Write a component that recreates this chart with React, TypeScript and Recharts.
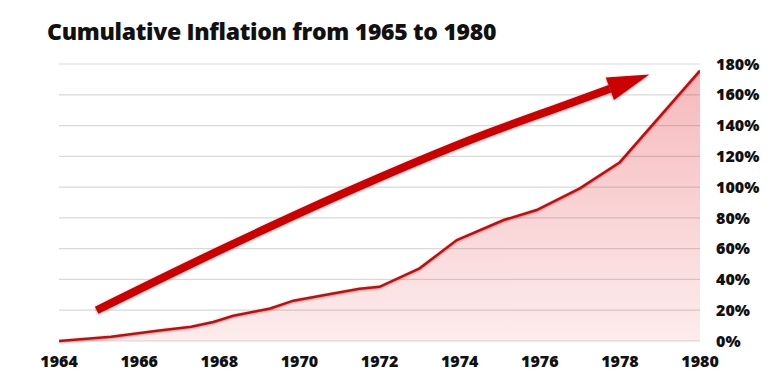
import React from 'react';
import {
  ComposedChart,
  Area,
  Line,
  XAxis,
  YAxis,
  CartesianGrid,
} from 'recharts';

// cumulative inflation since 1964, in percent
const years = [
  1964, 1965.3, 1966.5, 1967.3, 1967.85, 1968.35, 1969.27, 1969.85, 1970.7,
  1971.5, 1972, 1973, 1973.93, 1975.1, 1975.92, 1977, 1978, 1980,
];
const inflation = [
  0, 2.7, 6.8, 9.2, 12.4, 16.4, 21.1, 26.2, 30.2, 33.9, 35.2, 47.2, 65.6,
  78.6, 85.1, 99.2, 116.2, 175.7,
];

// decorative trend arrow (shaft points, arrow head is drawn at the last one)
const arrowYears = [1964.94, 1968.19, 1971.76, 1974.26, 1976.76, 1977.75];
const arrowValues = [20, 61.2, 103.5, 130.6, 154.5, 163.9];

const xTicks = [1964, 1966, 1968, 1970, 1972, 1974, 1976, 1978, 1980];
const yTicks = [0, 20, 40, 60, 80, 100, 120, 140, 160, 180];

const TITLE = 'Cumulative Inflation from 1965 to 1980';
const RED = '#cc0000';
const LINE_RED = '#c20d0d';
const FONT = '"Open Sans", Lato, sans-serif';

const inflationData = years.map((year, i) => ({ year, value: inflation[i] }));
const arrowData = arrowYears.map((year, i) => ({ year, value: arrowValues[i] }));

function ArrowHead(props: any) {
  const { cx, cy, index, points } = props;
  const key = `head-${index}`;
  if (!points || index !== points.length - 1 || index < 1) return <g key={key} />;
  const prev = points[index - 1];
  const dx = cx - prev.x;
  const dy = cy - prev.y;
  const len = Math.hypot(dx, dy) || 1;
  const ux = dx / len;
  const uy = dy / len;
  const headLen = 42;
  const half = 12;
  const tip = [cx + ux * headLen, cy + uy * headLen];
  const a = [cx - uy * half, cy + ux * half];
  const b = [cx + uy * half, cy - ux * half];
  return (
    <polygon
      key={key}
      points={`${tip[0]},${tip[1]} ${a[0]},${a[1]} ${b[0]},${b[1]}`}
      fill={RED}
      filter="url(#softShadow)"
    />
  );
}

export default function App() {
  return (
    <div style={{ position: 'absolute', left: 0, top: 0, width: 781, height: 391, background: '#fff' }}>
      <div
        style={{
          position: 'absolute',
          left: 47,
          top: 15,
          fontFamily: FONT,
          fontWeight: 800,
          fontSize: 23,
          letterSpacing: -0.3,
          color: '#111',
          whiteSpace: 'nowrap',
        }}
      >
        {TITLE}
      </div>
      <ComposedChart
        width={781}
        height={391}
        margin={{ top: 64, right: 0, bottom: 20, left: 59 }}
      >
        <defs>
          <linearGradient id="inflFill" x1="0" y1="0" x2="0" y2="1">
            <stop offset="0%" stopColor="#e0141e" stopOpacity={0.3} />
            <stop offset="100%" stopColor="#e0141e" stopOpacity={0.08} />
          </linearGradient>
          <filter id="softShadow" x="-10%" y="-10%" width="120%" height="130%">
            <feDropShadow dx="0" dy="1" stdDeviation="0.8" floodColor="#000" floodOpacity="0.35" />
          </filter>
        </defs>
        <CartesianGrid vertical={false} stroke="#d9d9d9" strokeWidth={1.2} />
        <XAxis
          type="number"
          dataKey="year"
          domain={[1964, 1980]}
          ticks={xTicks}
          allowDataOverflow
          axisLine={false}
          tickLine={false}
          tickSize={0}
          tickMargin={15}
          height={30}
          tick={{ fontFamily: FONT, fontWeight: 800, fontSize: 16, fill: '#111' }}
        />
        <YAxis
          orientation="right"
          type="number"
          domain={[0, 180]}
          ticks={yTicks}
          axisLine={false}
          tickLine={false}
          tickSize={0}
          tickMargin={16}
          width={81}
          tickFormatter={(v) => `${v}%`}
          tick={{ fontFamily: FONT, fontWeight: 800, fontSize: 16, fill: '#111', textAnchor: 'start' }}
        />
        <Area
          data={inflationData}
          dataKey="value"
          type="linear"
          stroke="none"
          fill="url(#inflFill)"
          fillOpacity={1}
          dot={false}
          activeDot={false}
          isAnimationActive={false}
        />
        <Line
          data={inflationData}
          dataKey="value"
          type="linear"
          stroke={LINE_RED}
          strokeWidth={2.5}
          dot={false}
          activeDot={false}
          isAnimationActive={false}
          style={{ filter: 'url(#softShadow)' }}
        />
        <Line
          data={arrowData}
          dataKey="value"
          type="monotone"
          stroke={RED}
          strokeWidth={8}
          strokeLinecap="butt"
          dot={(p: any) => <ArrowHead {...p} />}
          activeDot={false}
          isAnimationActive={false}
          style={{ filter: 'url(#softShadow)' }}
        />
      </ComposedChart>
    </div>
  );
}
